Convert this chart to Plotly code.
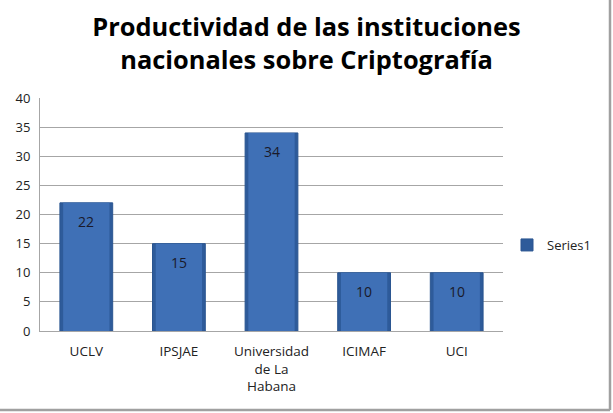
import plotly.graph_objects as go

categories = ["UCLV", "IPSJAE", "Universidad<br>de La<br>Habana", "ICIMAF", "UCI"]
values = [22, 15, 34, 10, 10]
y_ticks = [0, 5, 10, 15, 20, 25, 30, 35, 40]
series_name = "Series1"
title_text = "Productividad de las instituciones<br>nacionales sobre Criptografía"

FONT = "'Open Sans', Lato, sans-serif"
L, R, T, B = 40, 110, 98, 82
PW, PH = 613 - L - R, 413 - T - B

fig = go.Figure()
# edge (darker) bar
fig.add_trace(go.Bar(
    x=categories, y=values, name=series_name,
    marker=dict(color="#2E5B9A", line=dict(color="#2A5590", width=1)),
    width=0.57, hoverinfo="skip",
))
# lighter centre of the bars
fig.add_trace(go.Bar(
    x=categories, y=values, name=series_name, showlegend=False,
    marker=dict(color="#3F70B6", line=dict(width=0)),
    width=0.50,
))

for c, v in zip(categories, values):
    fig.add_annotation(x=c, y=v, yref="y", xref="x", text=str(v),
                       showarrow=False, yshift=-19, yanchor="middle",
                       font=dict(family=FONT, size=14, color="#1a1a2a"))

fig.update_layout(
    width=613, height=413,
    margin=dict(l=L, r=R, t=T, b=B, autoexpand=False),
    paper_bgcolor="white", plot_bgcolor="white",
    barmode="overlay",
    title=dict(text="<b>" + title_text + "</b>", x=0.5, xanchor="center",
               xref="container", yref="container", y=1 - 36 / 413,
               yanchor="middle",
               font=dict(family=FONT, size=25.4, color="black")),
    showlegend=True,
    legend=dict(x=(507 - L) / PW, y=(331 - 245) / PH, xanchor="left",
                yanchor="middle",
                font=dict(family=FONT, size=13, color="#222"),
                itemwidth=30, bgcolor="rgba(0,0,0,0)"),
    font=dict(family=FONT, size=13, color="#222"),
)
fig.update_yaxes(range=[0, 40], tickvals=y_ticks, showgrid=True,
                 gridcolor="#A6A6A6", gridwidth=1, showline=True,
                 linecolor="#A6A6A6", linewidth=1, ticks="",
                 tickfont=dict(family=FONT, size=13, color="#222"),
                 ticklabelstandoff=6, zeroline=False, fixedrange=True)
fig.update_xaxes(showline=True, linecolor="#A6A6A6", linewidth=1,
                 ticks="", tickfont=dict(family=FONT, size=13.5, color="#222"),
                 tickangle=0, ticklabelstandoff=8)

# outer frame shadow (right and bottom)
fx = (610 - L) / PW
fy = (331 - 410) / PH
fig.add_shape(type="line", xref="paper", yref="paper",
              x0=fx, x1=fx, y0=fy, y1=(331 - 0) / PH,
              line=dict(color="#A0A0A0", width=2.5))
fig.add_shape(type="line", xref="paper", yref="paper",
              x0=-L / PW, x1=fx, y0=fy, y1=fy,
              line=dict(color="#A0A0A0", width=2.5))

fig.write_html("out.html")
